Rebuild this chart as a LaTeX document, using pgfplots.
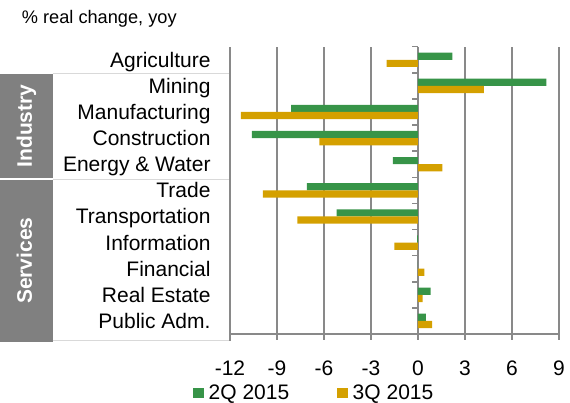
\documentclass[border=0pt]{standalone}
\usepackage{fontspec}
\setmainfont{Liberation Sans}
\usepackage{pgfplots}
\pgfplotsset{compat=1.18}
\definecolor{gA}{RGB}{55,148,72}
\definecolor{oA}{RGB}{212,160,0}
\definecolor{gridgray}{RGB}{137,137,137}
\definecolor{boxgray}{RGB}{128,128,128}
\definecolor{sepgray}{RGB}{217,217,217}
\begin{document}
\begin{tikzpicture}[x=1pt,y=1pt]
\begin{axis}[
  at={(0pt,0pt)}, anchor=south west, scale only axis,
  width=329pt, height=287.3pt,
  xmin=-12, xmax=9, ymin=-0.5, ymax=10.5,
  axis x line*=bottom, axis y line*=left,
  axis line style={draw=gridgray, line width=1.5pt},
  xtick={-12,-9,-6,-3,0,3,6,9},
  xmajorgrids,
  major grid style={draw=gridgray, line width=1.5pt},
  tick align=outside, major tick length=6pt,
  xtick style={draw=gridgray, line width=1.5pt},
  ytick={0,1,2,3,4,5,6,7,8,9,10},
  ytick style={draw=none},
  yticklabels={Public Adm., Real Estate\hspace{5pt}, Financial, Information, Transportation, Trade, Energy \& Water, Construction\hspace{5pt}, Manufacturing\hspace{5pt}, Mining\hspace{5pt}, Agriculture},
  tick label style={font=\fontsize{21}{25}\selectfont},
  /pgf/number format/assume math mode=true,
  xticklabel style={anchor=north, inner sep=0pt, yshift=-20.5pt},
  yticklabel style={anchor=base east, inner sep=0pt, xshift=-13.3pt, yshift=-7.5pt},
  legend style={at={(axis description cs:-0.1125,-0.2065)}, anchor=west, draw=none, fill=none, inner sep=0pt,
    font=\fontsize{21}{25}\selectfont, nodes={inner sep=0pt},
    /tikz/every even column/.append style={column sep=48pt},
    /tikz/every odd column/.append style={column sep=5pt}},
  legend columns=2, legend cell align=left,
]
\addplot[xbar, bar width=7.2pt, bar shift=3.6pt, fill=gA, draw=none,
  legend image code/.code={\fill[gA] (0pt,-5pt) rectangle (10.5pt,5.5pt);}]
  coordinates {(2.2,10) (8.2,9) (-8.1,8) (-10.6,7) (-1.6,6) (-7.1,5) (-5.2,4) (-0.05,3) (0,2) (0.8,1) (0.5,0)};
\addlegendentry{2Q 2015}
\addplot[xbar, bar width=7.2pt, bar shift=-3.6pt, fill=oA, draw=none,
  legend image code/.code={\fill[oA] (0pt,-5pt) rectangle (10.5pt,5.5pt);}]
  coordinates {(-2.0,10) (4.2,9) (-11.3,8) (-6.3,7) (1.55,6) (-9.9,5) (-7.7,4) (-1.5,3) (0.4,2) (0.3,1) (0.9,0)};
\addlegendentry{3Q 2015}
\pgfplotsinvokeforeach{-0.5,0.5,1.5,2.5,3.5,4.5,5.5,6.5,7.5,8.5,9.5,10.5}{
  \draw[gridgray, line width=1.5pt] (axis cs:0,#1) -- ++(-6pt,0pt);
}
\end{axis}
\begin{scope}[shift={(-230pt,-69pt)}]
\fill[boxgray] (0,224.7) rectangle (52.7,328.7);
\fill[boxgray] (0,61.3) rectangle (52.7,223);
\draw[sepgray, line width=1.5pt] (52.7,329.7) -- (229.3,329.7);
\draw[sepgray, line width=1.5pt] (52.7,223.7) -- (229.3,223.7);
\draw[sepgray, line width=1.5pt] (52.7,62.3) -- (229.3,62.3);
\draw[gridgray, line width=1.5pt] (230,69) -- (230,61.6);
\node[rotate=90, anchor=base, text=white, inner sep=0pt, font=\bfseries\fontsize{21}{25}\selectfont] at (32,277) {Industry};
\node[rotate=90, anchor=base, text=white, inner sep=0pt, font=\bfseries\fontsize{21}{25}\selectfont] at (32,142.3) {Services};
\node[anchor=base west, inner sep=0pt, font=\fontsize{18.2}{22}\selectfont] at (21.7,379.5) {\% real change, yoy};
\end{scope}
\pgfresetboundingbox
\useasboundingbox (-230pt,-69pt) rectangle (340pt,334pt);
\end{tikzpicture}
\end{document}
